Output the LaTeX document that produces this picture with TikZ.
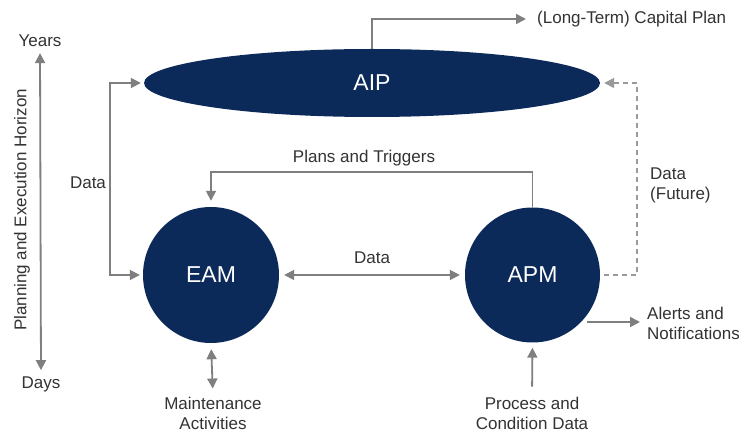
\documentclass[tikz,border=0pt]{standalone}
\usepackage{fontspec}
\setmainfont{Liberation Sans}
\usetikzlibrary{arrows.meta,shapes.geometric,calc}
\definecolor{navy}{HTML}{0B2A5A}
\definecolor{arrgray}{HTML}{7F7F7F}
\definecolor{dashgray}{HTML}{9A9A9A}
\definecolor{txt}{HTML}{333333}
\begin{document}
\begin{tikzpicture}[x=1pt,y=-1pt,
  lbl/.style={text=txt,font=\fontsize{17}{20}\selectfont,inner sep=0pt,align=center},
  big/.style={fill=navy,text=white,font=\fontsize{23}{26}\selectfont,inner sep=0pt},
  conn/.style={draw=arrgray,line width=1.8pt,-{Triangle[length=10pt,width=10pt]}},
  dconn/.style={conn,{Triangle[length=10pt,width=10pt]}-{Triangle[length=10pt,width=10pt]}},
  dashconn/.style={conn,draw=dashgray,dash pattern=on 5pt off 4pt}]
\useasboundingbox (0,0) rectangle (739,435);
\fill[white] (0,0) rectangle (739,435);
% main nodes
\node[big,ellipse,minimum width=456pt,minimum height=68pt] (AIP) at (372,83) {AIP};
\node[big,circle,minimum size=136pt] (EAM) at (211,275) {EAM};
\node[big,circle,minimum size=135pt] (APM) at (532.5,275) {APM};
% labels
\node[lbl] (years) at (40,41) {Years};
\node[lbl] (days) at (41,384) {Days};
\node[lbl,rotate=90] (horizon) at (22,210) {Planning and Execution Horizon};
\node[lbl] (dataL) at (88,183) {Data};
\node[lbl] (plans) at (364,158) {Plans and Triggers};
\node[lbl] (dataM) at (372,258) {Data};
\node[lbl,anchor=west] (capital) at (537,19) {(Long-Term) Capital Plan};
\node[lbl,align=left,anchor=west] (future) at (650,185) {Data\\(Future)};
\node[lbl,align=left,anchor=west] (alerts) at (647,323) {Alerts and\\Notifications};
\node[lbl] (maint) at (213,413) {Maintenance\\Activities};
\node[lbl] (proc) at (532,413) {Process and\\Condition Data};
% corner coordinates
\coordinate (dl) at (110,0);
\coordinate (ptc) at (372,172);
\coordinate (dr) at (637,0);
\coordinate (alx) at (587,322);
% connectors
\draw[dconn,shorten <=6pt,shorten >=6pt] (years.south) -- (days.north);
\draw[dconn,shorten <=3pt,shorten >=3pt] (AIP.west) -- (AIP.west -| dl) -- (EAM.west -| dl) -- (EAM.west);
\draw[conn,shorten >=6pt] (APM.north) |- (ptc) -| (EAM.north);
\draw[dconn,shorten <=5pt,shorten >=5pt] (EAM.east) -- (APM.west);
\draw[conn,shorten >=11pt] (AIP.north) |- (capital.west);
\draw[dashconn,shorten <=4pt,shorten >=4pt] (APM.east) -- (APM.east -| dr) -- (AIP.east -| dr) -- (AIP.east);
\draw[conn,shorten >=7pt] (alx) -- (alx -| alerts.west);
\draw[dconn,shorten <=6pt,shorten >=8pt] (EAM.south) -- (maint.north);
\draw[conn,shorten <=10pt,shorten >=5pt] (proc.north) -- (APM.south);
\end{tikzpicture}
\end{document}
